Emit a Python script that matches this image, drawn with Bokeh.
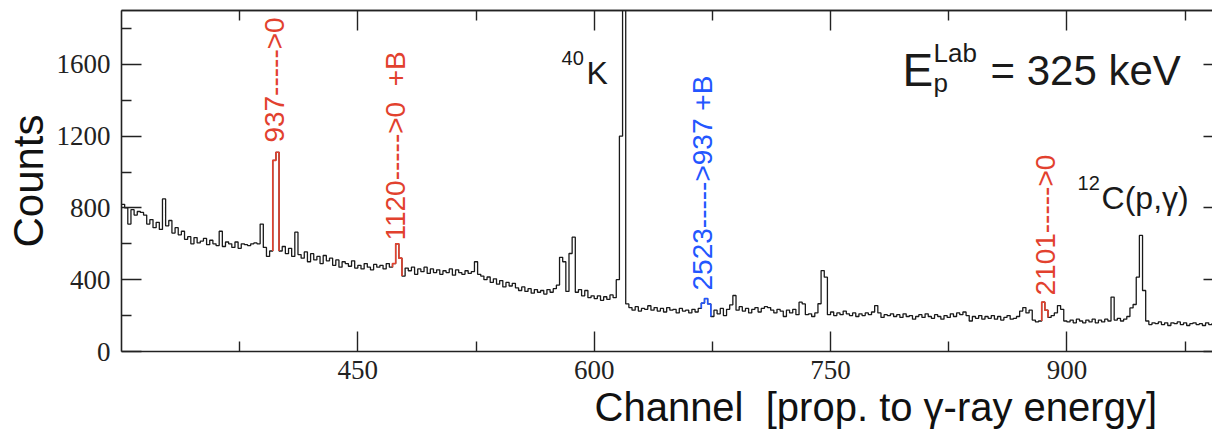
import numpy as np
from bokeh.plotting import figure
from bokeh.models import Range1d, LinearAxis, FixedTicker, Label, Title
from bokeh.embed import file_html
from bokeh.resources import INLINE

# ---------------- data ----------------
CH_START = 300          # first channel
BIN = 2                 # channels per bin
counts = [
    820, 800, 710, 790, 760, 780, 775, 760, 710, 735, 690, 720, 680, 850, 700, 730, 660, 690, 650, 670, 625, 640, 600, 635, 605,
    615, 630, 595, 620, 600, 590, 670, 585, 610, 600, 580, 610, 575, 600, 595, 590, 600, 605, 600, 710, 580, 530, 560, 1065, 1110,
    560, 585, 545, 575, 530, 665, 540, 520, 555, 500, 545, 510, 530, 490, 535, 505, 520, 480, 510, 470, 500, 490, 475, 505, 465,
    480, 460, 490, 470, 455, 485, 470, 480, 460, 490, 470, 490, 600, 520, 420, 465, 450, 470, 430, 460, 445, 470, 435, 460, 440,
    455, 430, 450, 440, 460, 425, 455, 440, 430, 450, 435, 445, 500, 430, 420, 400, 415, 385, 405, 375, 395, 360, 385, 365, 380,
    355, 340, 360, 335, 350, 325, 345, 330, 340, 320, 345, 330, 350, 370, 525, 500, 335, 546, 637, 330, 345, 310, 340, 300, 310,
    295, 310, 285, 305, 290, 315, 300, 400, 1200, 3000, 265, 245, 230, 250, 225, 240, 235, 255, 230, 245, 225, 240, 220, 245, 230,
    235, 215, 240, 225, 230, 215, 235, 220, 240, 270, 295, 265, 195, 230, 210, 240, 200, 235, 260, 312, 230, 250, 225, 240, 215,
    235, 245, 220, 240, 250, 245, 230, 215, 235, 225, 195, 230, 215, 235, 205, 275, 265, 205, 210, 195, 215, 266, 451, 414, 205,
    220, 200, 215, 205, 225, 210, 200, 215, 195, 210, 200, 215, 205, 220, 256, 215, 190, 205, 200, 210, 195, 205, 190, 210, 195,
    200, 180, 195, 205, 190, 210, 195, 185, 205, 195, 180, 200, 190, 210, 195, 215, 205, 220, 200, 170, 195, 185, 200, 180, 195,
    185, 200, 180, 195, 175, 190, 200, 180, 185, 195, 225, 245, 215, 230, 175, 165, 170, 275, 230, 190, 200, 215, 256, 235, 170,
    165, 175, 160, 180, 170, 160, 175, 165, 180, 160, 175, 165, 180, 170, 303, 175, 185, 170, 180, 195, 243, 262, 414, 647, 340,
    170, 150, 160, 155, 165, 150, 160, 145, 160, 155, 165, 150, 160, 145, 155, 160, 150, 155, 145, 160, 150, 155, 150, 155, 150,
]
# highlighted transitions: (first bin channel, last bin channel)
red_peaks = [(396, 398), (472, 476), (884, 886)]
blue_peaks = [(668, 672)]

X_MAJOR = [450, 600, 750, 900]
X_MINOR = [375, 525, 675, 825, 975]
Y_MAJOR = [0, 400, 800, 1200, 1600]
Y_MINOR = [200, 600, 1000, 1400, 1800]

RED = "#e2412e"
BLUE = "#2356ff"
INK = "#1a1a1a"
AX = "#222222"

# ---------------- figure ----------------
p = figure(width=1212, height=435, x_range=Range1d(300, 992.4), y_range=Range1d(0, 1900),
           output_backend="svg", toolbar_location=None,
           x_axis_location=None, y_axis_location=None,
           min_border_left=121, min_border_right=0, min_border_top=10, min_border_bottom=84)
p.outline_line_color = None
p.xgrid.grid_line_color = None
p.ygrid.grid_line_color = None
p.background_fill_color = "white"
p.border_fill_color = "white"

edges = CH_START + BIN * np.arange(len(counts) + 1)
vals = np.array(counts, dtype=float)

xs = list(edges[:-1]) + [edges[-1]]
ys = list(vals) + [vals[-1]]
p.step(xs, ys, mode="after", line_color=INK, line_width=1.3)


def overlay(lo, hi, color):
    a = int((lo - CH_START) // BIN)
    b = int((hi - CH_START) // BIN)
    ox = [edges[a]] + list(edges[a:b + 2])
    oy = [vals[a - 1]] + list(vals[a:b + 1]) + [vals[b + 1]]
    p.step(ox, oy, mode="after", line_color=color, line_width=1.6)


for lo, hi in red_peaks:
    overlay(lo, hi, RED)
for lo, hi in blue_peaks:
    overlay(lo, hi, BLUE)

# ---------------- axes ----------------
def ticks_style(ax, major_in, minor_in):
    ax.major_tick_in = major_in
    ax.major_tick_out = 0
    ax.minor_tick_in = minor_in
    ax.minor_tick_out = 0
    ax.axis_line_color = AX
    ax.axis_line_width = 1.6
    ax.major_tick_line_color = AX
    ax.major_tick_line_width = 1.4
    ax.minor_tick_line_color = AX
    ax.minor_tick_line_width = 1.4


bottom = LinearAxis(ticker=FixedTicker(ticks=X_MAJOR, minor_ticks=X_MINOR))
ticks_style(bottom, 20, 10)
bottom.major_label_text_font = "Liberation Serif"
bottom.major_label_text_font_size = "27px"
bottom.major_label_text_color = AX
bottom.major_label_standoff = 9
p.add_layout(bottom, "below")

left = LinearAxis(ticker=FixedTicker(ticks=Y_MAJOR, minor_ticks=Y_MINOR))
ticks_style(left, 20, 10)
left.major_label_text_font = "Liberation Serif"
left.major_label_text_font_size = "27px"
left.major_label_text_color = AX
left.major_label_standoff = 11
left.axis_label = "Counts"
left.axis_label_text_font = "Liberation Sans"
left.axis_label_text_font_size = "42px"
left.axis_label_text_font_style = "normal"
left.axis_label_text_color = "#111111"
left.axis_label_standoff = 2
p.add_layout(left, "left")

# top frame: long ticks at the labelled channels, short ones between (no labels)
top_long = LinearAxis(ticker=FixedTicker(ticks=[], minor_ticks=X_MAJOR))
ticks_style(top_long, 0, 20)
top_long.major_label_standoff = 0
p.add_layout(top_long, "above")
top_short = LinearAxis(ticker=FixedTicker(ticks=[], minor_ticks=X_MINOR))
ticks_style(top_short, 0, 10)
top_short.major_label_standoff = 0
p.add_layout(top_short, "above")

# right edge: only the inward stubs of the major ticks are visible
right = LinearAxis(ticker=FixedTicker(ticks=[], minor_ticks=Y_MAJOR))
ticks_style(right, 0, 9)
right.axis_line_color = None
right.major_label_standoff = 0
p.add_layout(right, "right")

# x-axis title (offset to the right, as in the original)
xtitle = Title(text="Channel\u00a0 [prop. to γ-ray energy]", align="left", offset=473,
               text_font="Liberation Sans", text_font_size="40px", text_font_style="normal",
               text_color="#111111", standoff=2)
p.add_layout(xtitle, "below")

# ---------------- texts ----------------
def lab(x, y, text, size, color=INK, angle=0.0, align="left"):
    p.add_layout(Label(x=x, y=y, text=text, text_font="Liberation Sans", text_font_size=size,
                       text_color=color, angle=angle, text_align=align, text_baseline="alphabetic"))


rot = np.pi / 2
lab(397.4, 1164, "937----->0", "28px", RED, rot)
lab(474.2, 618, "1120----->0\u00a0 +B", "28px", RED, rot)
lab(669.0, 340, "2523----->937 +B", "28px", BLUE, rot)
lab(886.1, 312, "2101----->0", "28px", RED, rot)

lab(579.3, 1635, "40", "20px")
lab(595.1, 1550, "K", "32px")

lab(795.7, 1568, "E", "46px")
lab(815.4, 1665, "Lab", "26px")
lab(815.4, 1498, "p", "26px")
lab(851.5, 1565, "= 325 keV", "42px")

lab(906.8, 939, "12", "20px")
lab(922.0, 853, "C(p,γ)", "32px")

open("out.html", "w").write(file_html(p, INLINE))
